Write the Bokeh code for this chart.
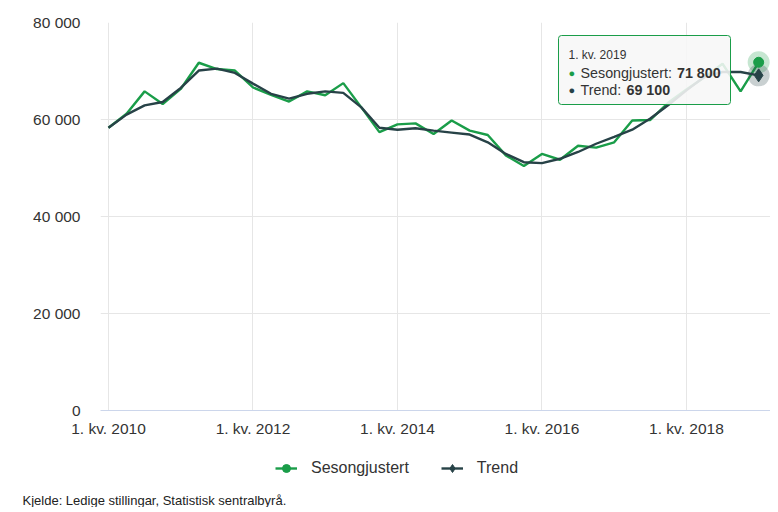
from bokeh.plotting import figure
from bokeh.layouts import column
from bokeh.models import (Range1d, FixedTicker, Legend, LegendItem, Label, Title,
                          BoxAnnotation, ColumnDataSource)
from bokeh.embed import file_html
from bokeh.resources import INLINE

# ---------------- data ----------------
years = list(range(2010, 2020))
quarters = [f"{q}. kv. {y}" for y in years for q in (1, 2, 3, 4)][:37]

sesongjustert = [58300, 61200, 65800, 63200, 66300, 71700, 70400, 70100,
                 66600, 65100, 63700, 65800, 65000, 67500, 62500, 57400,
                 59000, 59200, 57000, 59800, 57700, 56800, 52600, 50400,
                 52900, 51700, 54600, 54200, 55300, 59800, 59900, 63500,
                 66200, 68700, 71500, 65800, 71800]
trend = [58300, 61000, 62900, 63600, 66500, 70100, 70500, 69600,
         67400, 65300, 64300, 65300, 65800, 65500, 62500, 58300,
         57900, 58200, 57700, 57300, 56900, 55300, 52900, 51200,
         51000, 51900, 53300, 55000, 56400, 57900, 60200, 63000,
         66000, 68800, 69800, 69800, 69100]

tick_labels = ["1. kv. 2010", "1. kv. 2012", "1. kv. 2014", "1. kv. 2016", "1. kv. 2018"]
y_ticks = [0, 20000, 40000, 60000, 80000]
y_tick_labels = ["0", "20 000", "40 000", "60 000", "80 000"]

series_names = ["Sesongjustert", "Trend"]
source_text = "Kjelde: Ledige stillingar, Statistisk sentralbyrå."

GREEN = "#1a9d49"
DARK = "#274247"
FONT = "Liberation Sans"

idx = list(range(len(quarters)))
tick_pos = [quarters.index(t) for t in tick_labels]

# ---------------- geometry ----------------
PX_Q = 18.06          # pixels per quarter
X0 = -0.443
X1 = X0 + 670 / PX_Q
Y1 = 80000

p = figure(width=770, height=440, output_backend="svg", toolbar_location=None,
           x_range=Range1d(X0, X1), y_range=Range1d(0, Y1),
           min_border_left=100, min_border_right=0, min_border_top=22,
           min_border_bottom=30, background_fill_color="white",
           border_fill_color="white", outline_line_color=None)


def px2x(px):   # pixel -> data x
    return X0 + (px - 100) / PX_Q


def px2y(py):   # pixel -> data y
    return (410 - py) * Y1 / 388


# axes
p.xaxis.ticker = FixedTicker(ticks=tick_pos)
p.xaxis.major_label_overrides = {tp: lab for tp, lab in zip(tick_pos, tick_labels)}
p.xaxis.axis_line_color = "#ccd6eb"
p.xaxis.major_tick_line_color = None
p.xaxis.minor_tick_line_color = None
p.xaxis.major_tick_out = 0
p.xaxis.major_tick_in = 0
p.xaxis.major_label_standoff = 9
p.xaxis.major_label_text_font = FONT
p.xaxis.major_label_text_font_size = "15.5px"
p.xaxis.major_label_text_color = "#333333"

p.yaxis.ticker = FixedTicker(ticks=y_ticks)
p.yaxis.major_label_overrides = {t: l for t, l in zip(y_ticks, y_tick_labels)}
p.yaxis.axis_line_color = None
p.yaxis.major_tick_line_color = None
p.yaxis.minor_tick_line_color = None
p.yaxis.major_tick_out = 0
p.yaxis.major_tick_in = 0
p.yaxis.major_label_standoff = 20
p.yaxis.major_label_text_font = FONT
p.yaxis.major_label_text_font_size = "15.5px"
p.yaxis.major_label_text_color = "#333333"

p.xgrid.grid_line_color = "#e6e6e6"
p.ygrid.grid_line_color = "#e6e6e6"

src = ColumnDataSource(dict(x=idx, s=sesongjustert, t=trend))

line_s = p.line("x", "s", source=src, line_color=GREEN, line_width=2.4)
line_t = p.line("x", "t", source=src, line_color=DARK, line_width=2.4)

last = ColumnDataSource(dict(x=[idx[-1]], s=[sesongjustert[-1]], t=[trend[-1]]))
p.scatter("x", "s", source=last, marker="circle", size=22, fill_color=GREEN,
          fill_alpha=0.25, line_color=None)
p.scatter("x", "t", source=last, marker="circle", size=22, fill_color=DARK,
          fill_alpha=0.25, line_color=None)
p.scatter("x", "s", source=last, marker="circle", size=10,
          fill_color=GREEN, line_color=GREEN)
p.scatter("x", "t", source=last, marker="diamond", size=13,
          fill_color=DARK, line_color=DARK)

# tooltip
box = BoxAnnotation(left=px2x(558), right=px2x(730), top=px2y(35), bottom=px2y(104),
                    fill_color="#f7f7f7", fill_alpha=0.88, line_color=GREEN,
                    line_width=1, line_alpha=1, border_radius=3)
p.add_layout(box)


def lab(text, px, py, size, color="#333333", style="normal"):
    p.add_layout(Label(x=px2x(px), y=px2y(py), text=text, text_font=FONT,
                       text_font_size=size, text_color=color,
                       text_font_style=style, text_baseline="middle",
                       text_align="left"))


lab(quarters[-1], 568, 54, "12px")
lab("●", 568, 72, "11px", GREEN)
lab(series_names[0] + ":", 580, 72, "14.3px")
lab(f"{sesongjustert[-1]:,}".replace(",", " "), 676.5, 72, "14.3px", style="bold")
lab("●", 568, 89.5, "11px", DARK)
lab(series_names[1] + ":", 580, 89.5, "14.3px")
lab(f"{trend[-1]:,}".replace(",", " "), 626, 89.5, "14.3px", style="bold")

# ---------------- legend + source strip ----------------
f2 = figure(width=770, height=67, output_backend="svg", toolbar_location=None,
            x_range=Range1d(0, 1), y_range=Range1d(0, 1),
            min_border_left=100, min_border_right=0, min_border_top=0,
            min_border_bottom=0,
            x_axis_location=None, y_axis_location=None,
            outline_line_color=None, background_fill_color="white",
            border_fill_color="white")
f2.grid.visible = False

# legend-only renderers (kept outside the visible range)
off = ColumnDataSource(dict(x=[5, 6], y=[5, 5]))
lg_s = f2.line("x", "y", source=off, line_color=GREEN, line_width=2.4)
lg_sm = f2.scatter("x", "y", source=off, marker="circle", size=9,
                   fill_color=GREEN, line_color=GREEN)
lg_t = f2.line("x", "y", source=off, line_color=DARK, line_width=2.4)
lg_tm = f2.scatter("x", "y", source=off, marker="diamond", size=11,
                   fill_color=DARK, line_color=DARK)

legend = Legend(items=[LegendItem(label=series_names[0], renderers=[lg_s, lg_sm]),
                       LegendItem(label=series_names[1], renderers=[lg_t, lg_tm])],
                location=(175, 12), orientation="horizontal", padding=0, margin=0,
                spacing=32, glyph_width=22, glyph_height=20, label_standoff=14,
                border_line_color=None, background_fill_alpha=0,
                label_text_font=FONT, label_text_font_size="16px",
                label_text_color="#333333")
f2.add_layout(legend)

f2.add_layout(Title(text=source_text, align="left", offset=-78, standoff=0,
                    text_font=FONT, text_font_size="13px",
                    text_font_style="normal", text_color="#222222"), "below")

layout = column(p, f2, spacing=0)
open("out.html", "w").write(file_html(layout, INLINE))
